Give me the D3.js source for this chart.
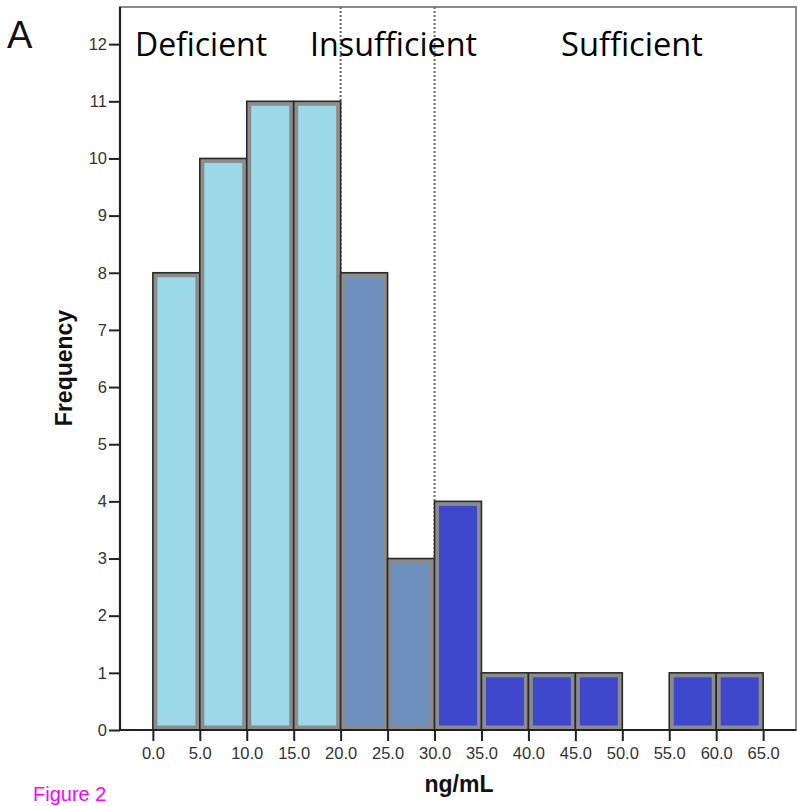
<!DOCTYPE html>
<html><head><meta charset="utf-8">
<script src="https://cdn.jsdelivr.net/npm/d3@7"></script>
<style>body{margin:0;background:#fff}svg{display:block}</style>
</head><body>
<svg id="c" width="798" height="806"></svg>
<script>
const binStarts = [0,5,10,15,20,25,30,35,40,45,50,55,60];
const binWidth = 5;
const counts = [8,10,11,11,8,3,4,1,1,1,0,1,1];
const categories = ["Deficient","Insufficient","Sufficient"];
const thresholds = [20,30];
const categoryColors = ["#9bd8e8","#6f91c0","#3f47cc"];
const xTicks = [0,5,10,15,20,25,30,35,40,45,50,55,60,65];
const yTicks = [0,1,2,3,4,5,6,7,8,9,10,11,12];

const svg = d3.select("#c");
const L=120,R=796,T=7,B=730;
const x = d3.scaleLinear().domain([-3.5,68.5]).range([L,R]);
const y = d3.scaleLinear().domain([0,12.65]).range([B,T]);
const cat = d3.scaleThreshold().domain(thresholds).range(categories);
const col = d3.scaleOrdinal().domain(categories).range(categoryColors);

// frame
svg.append("rect").attr("x",L).attr("y",T).attr("width",R-L).attr("height",B-T)
  .attr("fill","#fff").attr("stroke","#8a8a8a").attr("stroke-width",2);

// threshold dashed lines
svg.selectAll("line.thr").data(thresholds).join("line").attr("class","thr")
  .attr("x1",d=>x(d)).attr("x2",d=>x(d)).attr("y1",T).attr("y2",B)
  .attr("stroke","#6a6a6a").attr("stroke-width",2).attr("stroke-dasharray","2,2");

// bars
const bars = binStarts.map((s,i)=>({s,e:s+binWidth,c:counts[i]})).filter(d=>d.c>0);
const g = svg.append("g");
g.selectAll("rect.outer").data(bars).join("rect").attr("class","outer")
  .attr("x",d=>x(d.s)).attr("width",d=>x(d.e)-x(d.s))
  .attr("y",d=>y(d.c)).attr("height",d=>y(0)-y(d.c))
  .attr("fill","#8c8c8c").attr("stroke","#2a2a2a").attr("stroke-width",1.6);
const ins=4.5;
g.selectAll("rect.inner").data(bars).join("rect").attr("class","inner")
  .attr("x",d=>x(d.s)+ins).attr("width",d=>x(d.e)-x(d.s)-2*ins)
  .attr("y",d=>y(d.c)+ins).attr("height",d=>y(0)-y(d.c)-2*ins)
  .attr("fill",d=>col(cat(d.s)));

// axes
const yAxis = svg.append("g").attr("transform",`translate(${L},0)`)
  .call(d3.axisLeft(y).tickValues(yTicks).tickSize(11).tickPadding(2).tickFormat(d3.format("d")));
const xAxis = svg.append("g").attr("transform",`translate(0,${B})`)
  .call(d3.axisBottom(x).tickValues(xTicks).tickSize(11).tickPadding(6).tickFormat(d3.format(".1f")));
[yAxis,xAxis].forEach(a=>{
  a.select(".domain").attr("stroke","#222").attr("stroke-width",2.2);
  a.selectAll(".tick line").attr("stroke","#222").attr("stroke-width",2);
  a.selectAll(".tick text").attr("fill","#333").attr("font-family","Liberation Sans, Arial, sans-serif").attr("font-size",16.5);
});
xAxis.select(".domain").attr("d",`M${L},0H${R}`);
yAxis.select(".domain").attr("d",`M0,${B}V${T}`);

// category labels
const labelPos = [[135,267],[310,477],[561,703]];
svg.selectAll("text.cat").data(categories).join("text").attr("class","cat")
  .attr("x",(d,i)=>labelPos[i][0]).attr("y",56)
  .attr("textLength",(d,i)=>labelPos[i][1]-labelPos[i][0]).attr("lengthAdjust","spacingAndGlyphs")
  .attr("font-family","Open Sans, sans-serif").attr("font-size",33).attr("fill","#000")
  .text(d=>d);

// titles
svg.append("text").attr("transform",`translate(72,368) rotate(-90)`).attr("text-anchor","middle")
  .attr("font-family","Liberation Sans, Arial, sans-serif").attr("font-weight","bold").attr("font-size",23)
  .attr("fill","#111").text("Frequency");
svg.append("text").attr("x",459).attr("y",792).attr("text-anchor","middle")
  .attr("font-family","Liberation Sans, Arial, sans-serif").attr("font-weight","bold").attr("font-size",23)
  .attr("fill","#111").text("ng/mL");
svg.append("text").attr("x",7).attr("y",48)
  .attr("font-family","Liberation Sans, Arial, sans-serif").attr("font-size",38)
  .attr("fill","#111").text("A");
svg.append("text").attr("x",33).attr("y",801)
  .attr("font-family","Liberation Sans, Arial, sans-serif").attr("font-size",20)
  .attr("fill","#ff00ff").text("Figure 2");
</script>
</body></html>
